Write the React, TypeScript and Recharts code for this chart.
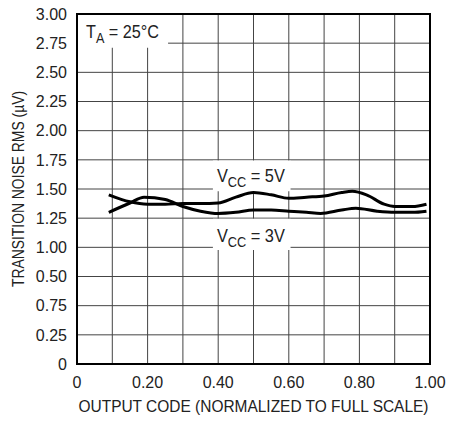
import React from 'react';
import { LineChart, Line, XAxis, YAxis, CartesianGrid, ReferenceArea } from 'recharts';

const FONT = '"Liberation Sans Narrow", "Arial Narrow", "Liberation Sans", Arial, sans-serif';
const INK = '#222';

// axis ticks and their printed labels (the y labels keep the sheet's 0.50 / 0.75 order)
const xTicks = [0, 0.1, 0.2, 0.3, 0.4, 0.5, 0.6, 0.7, 0.8, 0.9, 1.0];
const xTickLabels = ['0', '', '0.20', '', '0.40', '', '0.60', '', '0.80', '', '1.00'];
const yTicks = [0, 0.25, 0.5, 0.75, 1.0, 1.25, 1.5, 1.75, 2.0, 2.25, 2.5, 2.75, 3.0];
const yTickLabels = ['0', '0.25', '0.75', '0.50', '1.00', '1.25', '1.50', '1.75', '2.00', '2.25', '2.50', '2.75', '3.00'];

// VCC = 5V
const vcc5Code = [0.09, 0.15, 0.2, 0.25, 0.3, 0.35, 0.4, 0.45, 0.5, 0.55, 0.6, 0.65, 0.7, 0.75, 0.78, 0.82, 0.87, 0.9, 0.95, 0.99];
const vcc5Noise = [1.45, 1.39, 1.37, 1.37, 1.375, 1.375, 1.38, 1.43, 1.47, 1.45, 1.42, 1.43, 1.44, 1.47, 1.48, 1.45, 1.37, 1.35, 1.35, 1.37];

// VCC = 3V
const vcc3Code = [0.09, 0.15, 0.19, 0.25, 0.3, 0.35, 0.4, 0.45, 0.5, 0.55, 0.6, 0.65, 0.69, 0.75, 0.79, 0.85, 0.9, 0.95, 0.99];
const vcc3Noise = [1.3, 1.38, 1.43, 1.41, 1.35, 1.31, 1.29, 1.3, 1.32, 1.32, 1.31, 1.3, 1.29, 1.32, 1.335, 1.31, 1.3, 1.3, 1.31];

const vcc5 = vcc5Code.map((x, i) => ({ x, noise: vcc5Noise[i] }));
const vcc3 = vcc3Code.map((x, i) => ({ x, noise: vcc3Noise[i] }));

const Note = ({ viewBox, main, sub, rest, dx, dy, len }: any) => (
  <text x={viewBox.x + dx} y={viewBox.y + dy} fontSize={18} fill={INK} fontFamily={FONT}
    textLength={len} lengthAdjust="spacingAndGlyphs">
    {main}
    <tspan fontSize={14} dy={5}>{sub}</tspan>
    <tspan dy={-5}>{rest}</tspan>
  </text>
);

const YTitle = ({ viewBox }: any) => {
  const cx = viewBox.x + 18;
  const cy = viewBox.y + viewBox.height / 2;
  return (
    <text x={cx} y={cy} transform={`rotate(-90 ${cx} ${cy})`} textAnchor="middle" dominantBaseline="central"
      fontSize={17} fill={INK} fontFamily={FONT} textLength={196} lengthAdjust="spacingAndGlyphs">
      TRANSITION NOISE RMS (µV)
    </text>
  );
};

const XTitle = ({ viewBox }: any) => (
  <text x={viewBox.x + viewBox.width / 2} y={viewBox.y + viewBox.height - 9} textAnchor="middle"
    fontSize={16} fill={INK} fontFamily={FONT} textLength={350} lengthAdjust="spacingAndGlyphs">
    OUTPUT CODE (NORMALIZED TO FULL SCALE)
  </text>
);

export default function App() {
  const tick = { fontSize: 16, fill: INK, fontFamily: FONT };
  return (
    <div style={{ position: 'absolute', left: 0, top: 0, background: '#fff' }}>
      <LineChart width={449} height={421} margin={{ top: 14, right: 19, bottom: 0, left: 0 }}
        style={{ fontFamily: FONT }}>
        <CartesianGrid stroke="#444" strokeWidth={1} horizontalValues={yTicks} verticalValues={xTicks} />
        <XAxis type="number" dataKey="x" domain={[0, 1]} ticks={xTicks} height={57}
          tickFormatter={(v: number) => xTickLabels[xTicks.findIndex((t) => Math.abs(t - v) < 1e-6)] ?? ''}
          tick={tick} tickLine={false} tickSize={0} tickMargin={13}
          axisLine={{ stroke: '#000', strokeWidth: 2 }}
          label={{ content: XTitle }} />
        <YAxis type="number" domain={[0, 3]} ticks={yTicks} width={77} interval={0}
          tickFormatter={(v: number) => yTickLabels[yTicks.findIndex((t) => Math.abs(t - v) < 1e-6)] ?? ''}
          tick={tick} tickLine={false} tickSize={0} tickMargin={10}
          axisLine={{ stroke: '#000', strokeWidth: 2 }}
          label={{ content: YTitle }} />
        <ReferenceArea x1={0} x2={0.258} y1={2.71} y2={3} fill="#fff" fillOpacity={1} stroke="none"
          label={(p: any) => <Note {...p} main="T" sub="A" rest=" = 25°C" dx={9} dy={24} len={73} />} />
        <ReferenceArea x1={0.385} x2={0.605} y1={1.48} y2={1.745} fill="#fff" fillOpacity={1} stroke="none"
          label={(p: any) => <Note {...p} main="V" sub="CC" rest=" = 5V" dx={4} dy={22} len={68} />} />
        <ReferenceArea x1={0.385} x2={0.605} y1={0.977} y2={1.245} fill="#fff" fillOpacity={1} stroke="none"
          label={(p: any) => <Note {...p} main="V" sub="CC" rest=" = 3V" dx={4} dy={23} len={68} />} />
        <Line data={vcc5} dataKey="noise" type="monotone" stroke="#000" strokeWidth={3} dot={false} isAnimationActive={false} />
        <Line data={vcc3} dataKey="noise" type="monotone" stroke="#000" strokeWidth={3} dot={false} isAnimationActive={false} />
        <ReferenceArea x1={0} x2={1} y1={0} y2={3} fill="none" stroke="#000" strokeWidth={2} />
      </LineChart>
    </div>
  );
}
